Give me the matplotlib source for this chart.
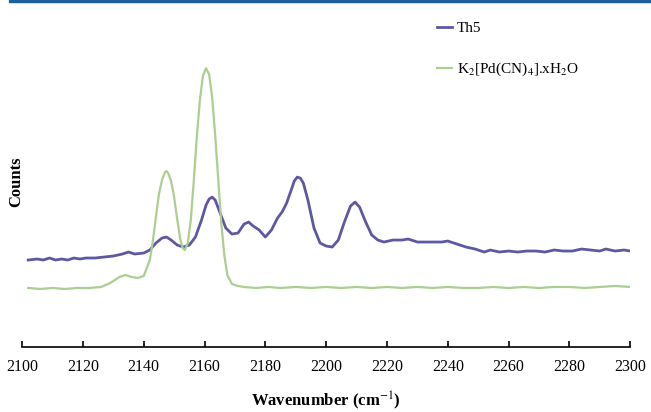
import matplotlib.pyplot as plt
from matplotlib.patches import Rectangle

# Th5 spectrum (wavenumber, counts)
th5_x = [2102, 2105, 2107, 2109, 2111, 2113, 2115, 2117, 2119, 2121, 2124, 2127,
         2130, 2133, 2135, 2137, 2140, 2142, 2144, 2146, 2147.5, 2149, 2151, 2153,
         2155, 2157, 2159, 2160.5, 2161.5, 2162.5, 2163.5, 2165, 2167, 2169, 2171, 2173,
         2174.5, 2176, 2178, 2180, 2182, 2184, 2185.5, 2187, 2188.5, 2189.5, 2190.5, 2191.5,
         2192.5, 2194, 2196, 2198, 2200, 2202, 2204, 2206, 2208, 2209.5, 2211, 2213, 2215,
         2217, 2219, 2222, 2225, 2227, 2230, 2234, 2238, 2240, 2243, 2246, 2249,
         2252, 2254, 2257, 2260, 2263, 2266, 2269, 2272, 2275, 2278, 2281, 2284,
         2287, 2290, 2292, 2295, 2298, 2300]
th5_y = [87, 88, 87, 89, 87, 88, 87, 89, 88, 89, 89, 90,
         91, 93, 95, 93, 94, 97, 104, 109, 110, 107, 102, 100,
         102, 110, 127, 142, 148, 150, 147, 135, 119, 113, 114, 123,
         125, 121, 117, 110, 117, 129, 135, 144, 157, 166, 170, 169,
         164, 147, 119, 104, 101, 100, 107, 125, 141, 145, 140, 125, 112,
         107, 105, 107, 107, 108, 105, 105, 105, 106, 103, 100, 98,
         95, 97, 95, 96, 95, 96, 96, 95, 97, 96, 96, 98,
         97, 96, 98, 96, 97, 96]

# K2[Pd(CN)4].xH2O spectrum
pd_x = [2102, 2106, 2110, 2114, 2118, 2122, 2126, 2129, 2132, 2134, 2136, 2138,
        2140, 2142, 2143, 2144, 2145, 2146, 2147, 2147.5, 2148, 2149, 2150, 2151,
        2152, 2152.8, 2153.5, 2154.5, 2155.5, 2156.5, 2157.5, 2158.5, 2159.5, 2160.5,
        2161.5, 2162.5, 2163.5, 2164.5, 2165.5, 2166.5, 2167.5, 2169, 2171, 2173,
        2177, 2181, 2185, 2190, 2195, 2200, 2205, 2210, 2215, 2220, 2225, 2230, 2235,
        2240, 2245, 2250, 2255, 2260, 2265, 2270, 2275, 2280, 2285, 2290, 2295, 2300]
pd_y = [59, 58, 59, 58, 59, 59, 60, 64, 70, 72, 70, 69,
        71, 87, 106, 130, 153, 167, 175, 176, 174, 166, 150, 128,
        108, 99, 97, 104, 128, 168, 212, 248, 272, 279,
        273, 250, 212, 168, 124, 92, 72, 63, 61, 60,
        59, 60, 59, 60, 59, 60, 59, 60, 59, 60, 59, 60, 59,
        60, 59, 59, 60, 59, 60, 59, 60, 60, 59, 60, 61, 60]

xticks = list(range(2100, 2301, 20))

plt.rcParams['font.family'] = ['Liberation Serif', 'DejaVu Serif']
plt.rcParams['mathtext.fontset'] = 'stix'

fig = plt.figure(figsize=(6.51, 4.12), dpi=100)
ax = fig.add_axes([0.034, 0.158, 0.934, 0.80])

ax.plot(th5_x, th5_y, color='#5e58a3', lw=2.0, label='Th5')
ax.plot(pd_x, pd_y, color='#aacf90', lw=1.6,
        label=r'K$_2$[Pd(CN)$_4$].xH$_2$O')

ax.set_xlim(2100, 2300)
ax.set_ylim(0, 330)
ax.set_xticks(xticks)
ax.set_xticklabels([str(t) for t in xticks], fontsize=11.5)
ax.set_yticks([])
for s in ['top', 'right', 'left']:
    ax.spines[s].set_visible(False)
ax.spines['bottom'].set_linewidth(1.2)
ax.tick_params(axis='x', direction='in', length=4, width=1.2, pad=9)

ax.set_xlabel('Wavenumber (cm$^{-1}$)', fontsize=12, fontweight='bold', labelpad=10)
fig.text(0.025, 0.56, 'Counts', rotation=90, fontsize=12, fontweight='bold',
         ha='center', va='center')

ax.legend(loc='upper left', bbox_to_anchor=(0.66, 1.03), frameon=False,
          fontsize=11, handlelength=1.0, handletextpad=0.3, labelspacing=1.7)

# blue bar across the top
fig.patches.append(Rectangle((0.014, 0.994), 0.986, 0.006, transform=fig.transFigure,
                             color='#1a5f9c', zorder=5))

fig.savefig('out.png', dpi=100)
